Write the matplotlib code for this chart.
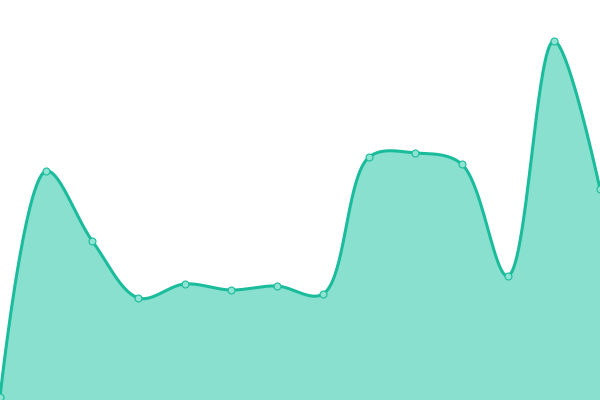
import numpy as np
import matplotlib
matplotlib.use("Agg")
import matplotlib.pyplot as plt

# values (pixel height above bottom edge)
x_idx = list(range(14))
values = [3, 229, 159, 102, 116, 110, 114, 106, 243, 247, 236, 124, 359, 211]

line_color = "#1abc9c"
fill_color = "#89e0cf"


def catmull_rom(xs, ys, sx=1.0, sy=1.0, alpha=0.5, n=40):
    """ centripetal catmull-rom, distances measured in screen units """
    P = np.column_stack([np.asarray(xs, float) * sx, np.asarray(ys, float) * sy])
    m = len(P)
    out = []
    t = np.linspace(0, 1, n, endpoint=False)[:, None]
    for i in range(m - 1):
        p0 = P[max(i - 1, 0)]
        p1 = P[i]
        p2 = P[i + 1]
        p3 = P[min(i + 2, m - 1)]
        l01 = np.linalg.norm(p1 - p0)
        l12 = np.linalg.norm(p2 - p1)
        l23 = np.linalg.norm(p3 - p2)
        c1 = p1.copy()
        c2 = p2.copy()
        if l01 > 1e-9:
            a = 2 * l01 ** (2 * alpha) + 3 * l01 ** alpha * l12 ** alpha + l12 ** (2 * alpha)
            nn = 3 * l01 ** alpha * (l01 ** alpha + l12 ** alpha)
            c1 = (p1 * a - p0 * l12 ** (2 * alpha) + p2 * l01 ** (2 * alpha)) / nn
        if l23 > 1e-9:
            b = 2 * l23 ** (2 * alpha) + 3 * l23 ** alpha * l12 ** alpha + l12 ** (2 * alpha)
            mm = 3 * l23 ** alpha * (l23 ** alpha + l12 ** alpha)
            c2 = (p2 * b + p1 * l23 ** (2 * alpha) - p3 * l12 ** (2 * alpha)) / mm
        seg = ((1 - t) ** 3 * p1 + 3 * (1 - t) ** 2 * t * c1
               + 3 * (1 - t) * t ** 2 * c2 + t ** 3 * p2)
        out.append(seg)
    out.append(P[-1:])
    out = np.vstack(out)
    return out[:, 0] / sx, out[:, 1] / sy


fig = plt.figure(figsize=(6, 4), dpi=100)
ax = fig.add_axes([0, 0, 1, 1])

cx, cy = catmull_rom(x_idx, values, sx=600 / 13, sy=1.0)
ax.fill_between(cx, 0, cy, color=fill_color, linewidth=0)
ax.plot(cx, cy, color=line_color, linewidth=2.2)
ax.plot(x_idx, values, linestyle="none", marker="o", markersize=5,
        markerfacecolor="#8fe3d2", markeredgecolor=line_color, markeredgewidth=0.8)

ax.set_xlim(0, 13)
ax.set_ylim(0, 400)
ax.axis("off")

fig.savefig("out.png", dpi=100)
